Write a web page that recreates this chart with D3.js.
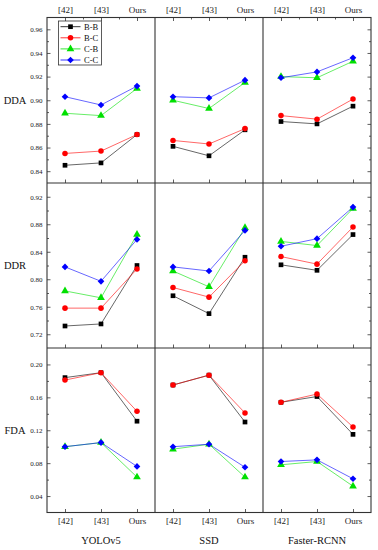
<!DOCTYPE html>
<html>
<head>
  <script src="https://d3js.org/d3.v7.min.js"></script>
  <style>
    body { margin: 0; background: #fff; }
    svg { display: block; }
    svg text { font-family: "Liberation Serif", "DejaVu Serif", serif; }
    .axis path { display: none; }
    .axis line { stroke: #333; stroke-width: 0.8px; }
    .axis text { fill: #222; }
    .frame { stroke: #333; stroke-width: 1.1px; fill: none; }
    .line { fill: none; stroke-width: 0.8px; stroke-opacity: 0.75; }
  </style>
</head>
<body>
  <svg id="chart"></svg>
  <script>
    var categories = ["[42]", "[43]", "Ours"];
    var models = ["YOLOv5", "SSD", "Faster-RCNN"];
    var metrics = ["DDA", "DDR", "FDA"];
    var seriesNames = ["B-B", "B-C", "C-B", "C-C"];

    // each array: one row per series (B-B, B-C, C-B, C-C), values for [42], [43], Ours
    var ddaYolo = [[0.845, 0.847, 0.871], [0.855, 0.857, 0.871], [0.889, 0.887, 0.910], [0.903, 0.896, 0.912]];
    var ddaSsd = [[0.861, 0.853, 0.875], [0.866, 0.863, 0.876], [0.900, 0.893, 0.915], [0.903, 0.902, 0.917]];
    var ddaFrcnn = [[0.882, 0.880, 0.895], [0.887, 0.884, 0.901], [0.920, 0.919, 0.933], [0.919, 0.924, 0.936]];

    var ddrYolo = [[0.732, 0.735, 0.820], [0.758, 0.758, 0.815], [0.783, 0.773, 0.865], [0.818, 0.797, 0.858]];
    var ddrSsd = [[0.776, 0.750, 0.832], [0.788, 0.774, 0.827], [0.812, 0.789, 0.875], [0.818, 0.812, 0.871]];
    var ddrFrcnn = [[0.821, 0.813, 0.865], [0.833, 0.822, 0.876], [0.855, 0.849, 0.903], [0.848, 0.859, 0.905]];

    var fdaYolo = [[0.184, 0.190, 0.131], [0.181, 0.190, 0.143], [0.100, 0.105, 0.063], [0.100, 0.105, 0.076]];
    var fdaSsd = [[0.175, 0.187, 0.130], [0.175, 0.187, 0.141], [0.097, 0.103, 0.063], [0.100, 0.103, 0.075]];
    var fdaFrcnn = [[0.154, 0.161, 0.115], [0.154, 0.164, 0.124], [0.078, 0.082, 0.052], [0.082, 0.084, 0.061]];

    var ddaTicks = [0.84, 0.86, 0.88, 0.90, 0.92, 0.94, 0.96];
    var ddrTicks = [0.72, 0.76, 0.80, 0.84, 0.88, 0.92];
    var fdaTicks = [0.04, 0.08, 0.12, 0.16, 0.20];

    var rowData = [[ddaYolo, ddaSsd, ddaFrcnn], [ddrYolo, ddrSsd, ddrFrcnn], [fdaYolo, fdaSsd, fdaFrcnn]];
    var rowTicks = [ddaTicks, ddrTicks, fdaTicks];
    var rowDomains = [[0.83, 0.97], [0.70, 0.94], [0.02, 0.22]];

    var colors = ["#000000", "#ff0000", "#00e000", "#0000ff"];
    var symbols = [d3.symbolSquare, d3.symbolCircle, d3.symbolTriangle, d3.symbolSquare];
    var symSizes = [22, 24, 26, 22];
    var symRotate = [0, 0, 0, 45];

    var W = 378, H = 550;
    var left = 47, right = 371;
    var rowEdges = [17.5, 183, 348, 512.5];
    var panelW = (right - left) / 3;
    var serif = "'Liberation Serif', 'DejaVu Serif', serif";

    var svg = d3.select("#chart").attr("width", W).attr("height", H);

    function halves(t) {
      var out = [];
      for (var i = 0; i < t.length; i++) {
        var step = t[1] - t[0];
        out.push(+(t[i] - step / 2).toFixed(4));
        if (i == t.length - 1) out.push(+(t[i] + step / 2).toFixed(4));
      }
      return out;
    }

    metrics.forEach(function(metric, r) {
      var y = d3.scaleLinear().domain(rowDomains[r]).range([rowEdges[r + 1], rowEdges[r]]);
      var ticks = rowTicks[r];
      var minor = halves(ticks).filter(function(v) { return v > rowDomains[r][0] && v < rowDomains[r][1]; });

      // left axis
      svg.append("g").attr("class", "axis")
        .attr("transform", "translate(" + left + ",0)")
        .call(d3.axisLeft(y).tickValues(ticks).tickSizeInner(-3.5).tickSizeOuter(0).tickPadding(4.5)
          .tickFormat(d3.format(".2f")))
        .attr("font-family", serif)
        .selectAll("text").style("font-size", "7px");
      svg.append("g").attr("class", "axis")
        .attr("transform", "translate(" + left + ",0)")
        .call(d3.axisLeft(y).tickValues(minor).tickSizeInner(-2).tickSizeOuter(0).tickFormat(""));
      // right axis
      svg.append("g").attr("class", "axis")
        .attr("transform", "translate(" + right + ",0)")
        .call(d3.axisRight(y).tickValues(ticks).tickSizeInner(-3.5).tickSizeOuter(0).tickFormat(""));
      svg.append("g").attr("class", "axis")
        .attr("transform", "translate(" + right + ",0)")
        .call(d3.axisRight(y).tickValues(minor).tickSizeInner(-2).tickSizeOuter(0).tickFormat(""));

      // row label
      svg.append("text")
        .attr("x", 15).attr("y", y((rowDomains[r][0] + rowDomains[r][1]) / 2) + 3.5)
        .attr("text-anchor", "middle")
        .style("font-size", "10.5px").style("fill", "#111")
        .text(metric);

      models.forEach(function(model, c) {
        var x0 = left + c * panelW;
        var x = d3.scalePoint().domain(categories).range([x0, x0 + panelW]).padding(0.5);
        var mid = [];
        for (var k = 0; k < categories.length - 1; k++) mid.push((x(categories[k]) + x(categories[k + 1])) / 2);

        // bottom ticks of this row
        var xb = svg.append("g").attr("class", "axis")
          .attr("transform", "translate(0," + rowEdges[r + 1] + ")")
          .call(d3.axisBottom(x).tickSizeInner(-3.5).tickSizeOuter(0).tickPadding(5))
          .attr("font-family", serif);
        if (r < 2) xb.selectAll("text").remove();
        else xb.selectAll("text").style("font-size", "9px");

        if (r == 0) {
          var xt = svg.append("g").attr("class", "axis")
            .attr("transform", "translate(0," + rowEdges[0] + ")")
            .call(d3.axisTop(x).tickSizeInner(-3.5).tickSizeOuter(0).tickPadding(4.5))
            .attr("font-family", serif);
          xt.selectAll("text").style("font-size", "9px");
          var xs = d3.scaleIdentity();
          svg.append("g").attr("class", "axis")
            .attr("transform", "translate(0," + rowEdges[0] + ")")
            .call(d3.axisTop(xs).tickValues(mid).tickSizeInner(-2).tickSizeOuter(0).tickFormat(""));
        }
        if (r == 2) {
          svg.append("text")
            .attr("x", x0 + panelW / 2).attr("y", 544)
            .attr("text-anchor", "middle")
            .style("font-size", "10.5px").style("fill", "#111")
            .text(model);
        }

        var data = rowData[r][c];
        var line = d3.line()
          .x(function(d, i) { return x(categories[i]); })
          .y(function(d) { return y(d); });

        data.forEach(function(vals, s) {
          svg.append("path")
            .datum(vals)
            .attr("class", "line")
            .attr("stroke", colors[s])
            .attr("d", line);
        });
        data.forEach(function(vals, s) {
          svg.selectAll(null)
            .data(vals)
            .enter().append("path")
            .attr("transform", function(d, i) {
              return "translate(" + x(categories[i]) + "," + y(d) + ") rotate(" + symRotate[s] + ")";
            })
            .attr("d", d3.symbol().type(symbols[s]).size(symSizes[s]))
            .attr("fill", colors[s]);
        });
      });
    });

    // frame and panel dividers
    svg.append("rect").attr("class", "frame")
      .attr("x", left).attr("y", rowEdges[0])
      .attr("width", right - left).attr("height", rowEdges[3] - rowEdges[0]);
    [1, 2].forEach(function(c) {
      svg.append("line").attr("class", "frame")
        .attr("x1", left + c * panelW).attr("x2", left + c * panelW)
        .attr("y1", rowEdges[0]).attr("y2", rowEdges[3]);
      svg.append("line").attr("class", "frame")
        .attr("x1", left).attr("x2", right)
        .attr("y1", rowEdges[c]).attr("y2", rowEdges[c]);
    });

    // legend
    var lg = svg.append("g").attr("transform", "translate(58.5,21)");
    lg.append("rect")
      .attr("width", 43).attr("height", 44)
      .attr("fill", "#fff").attr("stroke", "#333").attr("stroke-width", 0.8);
    seriesNames.forEach(function(name, s) {
      var ly = 5.7 + s * 11.1;
      lg.append("line")
        .attr("x1", 2).attr("x2", 22).attr("y1", ly).attr("y2", ly)
        .attr("stroke", colors[s]).attr("stroke-width", 0.8);
      lg.append("path")
        .attr("transform", "translate(12," + ly + ") rotate(" + symRotate[s] + ")")
        .attr("d", d3.symbol().type(symbols[s]).size(symSizes[s]))
        .attr("fill", colors[s]);
      lg.append("text")
        .attr("x", 25.5).attr("y", ly + 3)
        .style("font-size", "8.5px").style("fill", "#111")
        .text(name);
    });
  </script>
</body>
</html>
